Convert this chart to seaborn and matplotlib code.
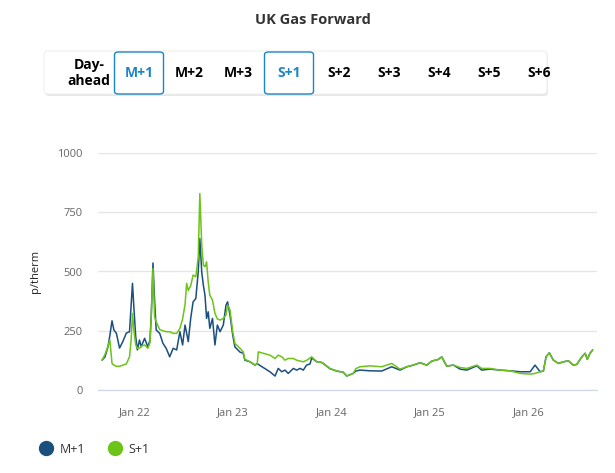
import pandas as pd
import numpy as np
import seaborn as sns
import matplotlib.pyplot as plt
import matplotlib.dates as mdates
from matplotlib.patches import FancyBboxPatch
from matplotlib.lines import Line2D


dates = ["2021-09-01", "2021-09-12", "2021-09-23", "2021-09-30", "2021-10-08", "2021-10-15",
         "2021-10-24", "2021-11-05", "2021-11-17", "2021-11-30", "2021-12-12", "2021-12-18",
         "2021-12-23", "2021-12-28", "2022-01-04", "2022-01-10", "2022-01-18", "2022-01-24",
         "2022-02-06", "2022-02-18", "2022-02-26", "2022-03-03", "2022-03-09", "2022-03-15",
         "2022-03-21", "2022-04-03", "2022-04-15", "2022-04-27", "2022-05-10", "2022-05-23",
         "2022-06-05", "2022-06-17", "2022-06-27", "2022-07-06", "2022-07-12", "2022-07-18",
         "2022-07-27", "2022-08-05", "2022-08-15", "2022-08-24", "2022-08-30", "2022-09-06",
         "2022-09-12", "2022-09-18", "2022-09-24", "2022-09-30", "2022-10-06", "2022-10-16",
         "2022-10-25", "2022-11-03", "2022-11-13", "2022-11-25", "2022-12-05", "2022-12-11",
         "2022-12-20", "2022-12-30", "2023-01-07", "2023-01-26", "2023-02-07", "2023-02-13",
         "2023-03-04", "2023-03-23", "2023-03-31", "2023-04-04", "2023-04-22", "2023-05-17",
         "2023-06-05", "2023-06-17", "2023-06-30", "2023-07-12", "2023-07-24", "2023-08-12",
         "2023-08-24", "2023-09-06", "2023-09-18", "2023-09-30", "2023-10-13", "2023-10-19",
         "2023-11-07", "2023-11-19", "2023-12-01", "2023-12-26", "2024-01-20", "2024-02-13",
         "2024-02-26", "2024-03-21", "2024-03-31", "2024-04-15", "2024-05-22", "2024-07-05",
         "2024-08-11", "2024-09-11", "2024-10-06", "2024-10-30", "2024-11-24", "2024-12-19",
         "2025-01-07", "2025-01-31", "2025-02-13", "2025-03-03", "2025-03-28", "2025-04-22",
         "2025-05-17", "2025-06-23", "2025-07-11", "2025-08-11", "2025-09-17", "2025-10-24",
         "2025-12-01", "2026-01-07", "2026-01-25", "2026-02-13", "2026-02-25", "2026-03-07",
         "2026-03-19", "2026-04-03", "2026-04-22", "2026-05-10", "2026-05-29", "2026-06-16",
         "2026-06-29", "2026-07-18", "2026-07-30", "2026-08-07", "2026-08-17", "2026-08-27"]

m1 = [126, 140, 182, 230, 292, 253, 240, 177, 204, 240, 246, 358,
      450, 351, 225, 169, 211, 182, 218, 182, 211, 323, 536, 379,
      253, 239, 197, 176, 140, 176, 169, 246, 190, 274, 240, 204,
      302, 372, 386, 498, 639, 498, 442, 400, 302, 330, 260, 302,
      190, 274, 246, 274, 358, 372, 316, 232, 182, 160, 155, 126,
      119, 105, 112, 108, 95, 77, 59, 91, 77, 84, 70, 91,
      84, 91, 84, 105, 110, 135, 119, 119, 112, 90, 80, 75,
      59, 70, 80, 84, 81, 80, 98, 84, 98, 105, 115, 105,
      122, 129, 140, 101, 105, 88, 84, 102, 84, 88, 84, 81,
      77, 77, 105, 77, 80, 140, 157, 126, 112, 119, 123, 105,
      108, 140, 155, 129, 155, 169]

s1 = [126, 150, 185, 211, 112, 105, 100, 100, 105, 110, 140, 211,
      323, 253, 190, 176, 176, 185, 190, 176, 200, 324, 513, 309,
      288, 255, 250, 246, 246, 239, 239, 260, 300, 360, 450, 420,
      440, 485, 478, 560, 829, 611, 527, 520, 541, 456, 400, 379,
      323, 300, 295, 302, 316, 358, 337, 246, 197, 176, 161, 130,
      119, 105, 112, 161, 155, 147, 133, 147, 140, 126, 133, 133,
      126, 122, 119, 125, 135, 140, 119, 119, 112, 90, 80, 75,
      59, 70, 90, 98, 102, 98, 112, 88, 98, 105, 115, 105,
      122, 129, 140, 101, 105, 95, 91, 105, 91, 91, 84, 81,
      70, 67, 70, 77, 80, 140, 157, 126, 112, 119, 123, 105,
      108, 140, 155, 129, 155, 169]

buttons = ["M+1", "M+2", "M+3", "S+1", "S+2", "S+3", "S+4", "S+5", "S+6"]
active = ["M+1", "S+1"]

df = pd.DataFrame({"date": pd.to_datetime(dates), "M+1": m1, "S+1": s1})
long = df.melt(id_vars="date", var_name="series", value_name="price")

blue = "#1b4f7e"
green = "#6cc417"
W, H = 615, 473

sns.set_style("white")
plt.rcParams["font.family"] = ["Open Sans", "DejaVu Sans"]

fig = plt.figure(figsize=(W / 100, H / 100), dpi=100)
ax = fig.add_axes([98 / W, 1 - 390 / H, (597 - 98) / W, (390 - 153) / H])

sns.lineplot(data=long, x="date", y="price", hue="series", hue_order=["M+1", "S+1"],
             palette={"M+1": blue, "S+1": green}, linewidth=1.1, ax=ax, legend=False)

ax.set_ylim(0, 1000)
ax.set_yticks([0, 250, 500, 750, 1000])
ax.set_xlim(pd.Timestamp("2021-08-17"), pd.Timestamp("2026-09-12"))
ax.xaxis.set_major_locator(mdates.YearLocator())
ax.xaxis.set_major_formatter(mdates.DateFormatter("Jan %y"))
ax.grid(axis="y", color="#e6e6e6", linewidth=1)
ax.set_axisbelow(True)
for s in ["top", "right", "left"]:
    ax.spines[s].set_visible(False)
ax.spines["bottom"].set_color("#ccd6eb")
ax.tick_params(axis="x", length=7, color="#ccd6eb", labelsize=8, labelcolor="#666666", pad=5)
ax.tick_params(axis="y", length=0, labelsize=8, labelcolor="#666666", pad=11)
ax.set_xlabel("")
ax.set_ylabel("p/therm", fontsize=8, color="#222222", labelpad=12)

fig.text(313 / W, 1 - 20 / H, "UK Gas Forward", ha="center", va="center",
         fontsize=10.5, fontweight="bold", color="#333333")

# button bar
shadow = FancyBboxPatch((45 / W, 1 - 96 / H), 503 / W, 44 / H,
                        boxstyle="round,pad=0,rounding_size=0.008",
                        transform=fig.transFigure, fc="#e6e6e6", ec="none")
bar = FancyBboxPatch((44 / W, 1 - 94 / H), 503 / W, 43 / H,
                     boxstyle="round,pad=0,rounding_size=0.008",
                     transform=fig.transFigure, fc="white", ec="#f0f0f0", lw=0.8)
fig.patches.extend([shadow, bar])
fig.text(89 / W, 1 - 73 / H, "Day-\nahead", ha="center", va="center",
         fontsize=10, fontweight="bold", color="black", linespacing=1.25)

xs = [139, 189, 238, 289, 339, 389, 439, 489, 539]
for name, cx in zip(buttons, xs):
    if name in active:
        box = FancyBboxPatch(((cx - 24.5) / W, 1 - 94 / H), 49 / W, 42 / H,
                             boxstyle="round,pad=0,rounding_size=0.006",
                             transform=fig.transFigure, fc="white", ec="#1a85c8", lw=1.0)
        fig.patches.append(box)
        col = "#1a85c8"
    else:
        col = "black"
    fig.text(cx / W, 1 - 73 / H, name, ha="center", va="center",
             fontsize=10, fontweight="bold", color=col)

handles = [Line2D([], [], ls="none", marker="o", ms=10, color=blue),
           Line2D([], [], ls="none", marker="o", ms=10, color=green)]
fig.legend(handles, ["M+1", "S+1"], loc="center left", bbox_to_anchor=(22 / W, 1 - 449 / H),
           ncol=2, frameon=False, fontsize=9, handletextpad=0.1, columnspacing=1.4,
           labelcolor="#333333")

fig.savefig("out.png", dpi=100)
